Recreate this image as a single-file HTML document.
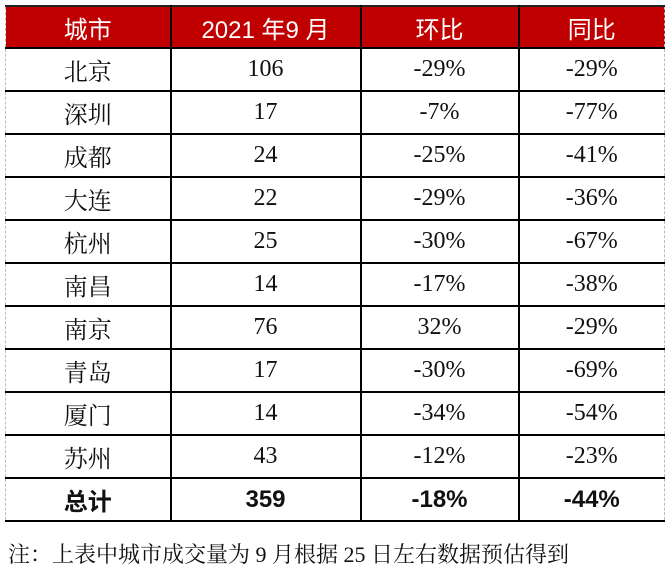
<!DOCTYPE html>
<html><head><meta charset="utf-8"><style>
body{margin:0;width:670px;height:578px;background:#fff;position:relative;overflow:hidden}
table{position:absolute;left:5px;top:5px;border-collapse:collapse;width:659px;table-layout:fixed}
td{height:41px;border:2px solid #000;text-align:center;padding:0;font-family:"Liberation Serif","Noto Serif CJK SC",serif;font-size:24px;color:#111}
tr.h td{background:#c00000;color:#fff;font-family:"Liberation Sans","Noto Sans CJK SC",sans-serif;font-size:24px;height:40px;border-top:2px solid #222}
tr.t td{font-family:"Liberation Sans","Noto Sans CJK SC",sans-serif;font-weight:bold}
td:first-child{border-left:1px dashed #bbb}
td:last-child{border-right:1px dashed #bbb}
.n{position:absolute;left:8px;top:538px;font-family:"Liberation Serif","Noto Serif CJK SC",serif;font-size:22px;color:#111}
</style></head><body>
<table>
<colgroup><col style="width:165px"><col style="width:190px"><col style="width:158px"><col style="width:146px"></colgroup>
<tr class="h"><td>城市</td><td>2021 年9 月</td><td>环比</td><td>同比</td></tr>
<tr><td>北京</td><td>106</td><td>-29%</td><td>-29%</td></tr>
<tr><td>深圳</td><td>17</td><td>-7%</td><td>-77%</td></tr>
<tr><td>成都</td><td>24</td><td>-25%</td><td>-41%</td></tr>
<tr><td>大连</td><td>22</td><td>-29%</td><td>-36%</td></tr>
<tr><td>杭州</td><td>25</td><td>-30%</td><td>-67%</td></tr>
<tr><td>南昌</td><td>14</td><td>-17%</td><td>-38%</td></tr>
<tr><td>南京</td><td>76</td><td>32%</td><td>-29%</td></tr>
<tr><td>青岛</td><td>17</td><td>-30%</td><td>-69%</td></tr>
<tr><td>厦门</td><td>14</td><td>-34%</td><td>-54%</td></tr>
<tr><td>苏州</td><td>43</td><td>-12%</td><td>-23%</td></tr>
<tr class="t"><td>总计</td><td>359</td><td>-18%</td><td>-44%</td></tr>
</table>
<div class="n">注：上表中城市成交量为 9 月根据 25 日左右数据预估得到</div>
</body></html>
